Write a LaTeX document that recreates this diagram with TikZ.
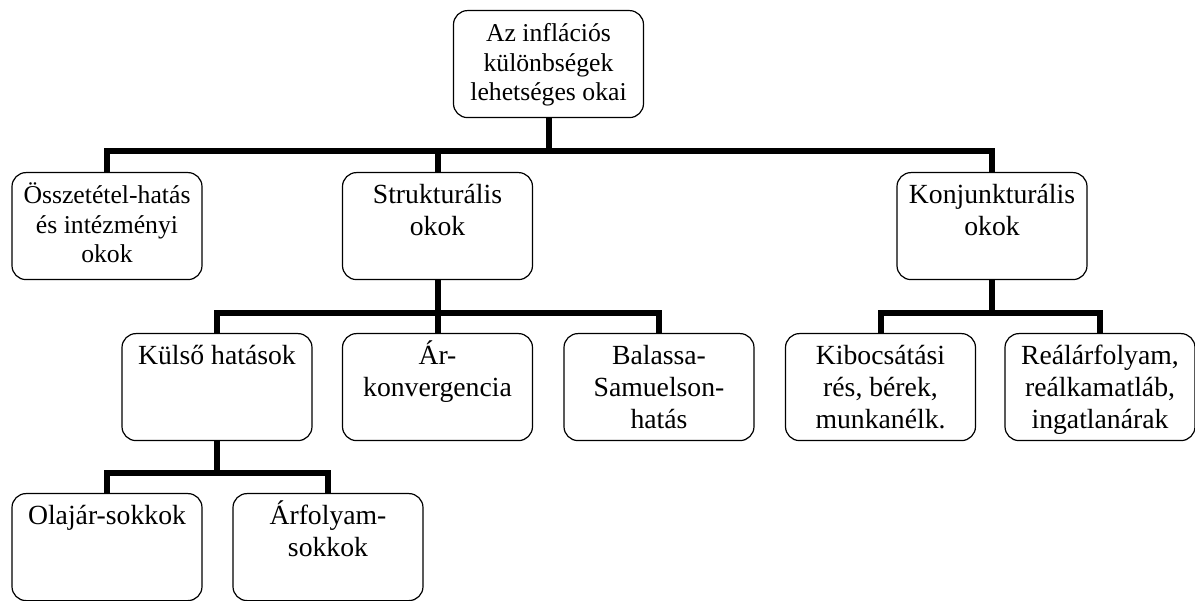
\documentclass[tikz,border=0pt]{standalone}
\usepackage{fontspec}
\setmainfont{Liberation Serif}
\tikzset{%
  % Specifications for style of nodes:
        base/.style = {rectangle, rounded corners=14pt, draw=black, line width=1.2pt,
                       minimum width=190pt, minimum height=107pt, anchor=north,
                       text width=182pt, align=flush center, inner xsep=4pt, inner ysep=0pt,
                       text height=31pt, text depth=76pt,
                       font=\fontsize{27.7}{31.8}\selectfont},
    smallbox/.style = {base, font=\fontsize{25.7}{29.5}\selectfont},
        link/.style = {line width=6pt, draw=black},
}

\begin{document}
\begin{tikzpicture}[x=1pt, y=-1pt]
  \useasboundingbox (0,0) rectangle (1195,601);
  % Specification of nodes (position, etc.)
  \node (root)    [smallbox] at (548.5,10) {Az inflációs\\különbségek\\lehetséges okai};

  \node (ossz)    [smallbox] at (107,172)  {Összetétel-hatás\\és intézményi\\okok};
  \node (strukt)  [base] at (437.5,172)    {Strukturális\\okok};
  \node (konj)    [base] at (992,172)      {Konjunkturális\\okok};

  \node (kulso)   [base] at (217,333)      {Külső hatások};
  \node (arkonv)  [base] at (437.5,333)    {Ár-\\konvergencia};
  \node (balassa) [base] at (659,333)      {Balassa-\\Samuelson-\\hatás};
  \node (kibocs)  [base] at (880.5,333)    {Kibocsátási\\rés, bérek,\\munkanélk.};
  \node (real)    [base] at (1100,333)     {Reálárfolyam,\\reálkamatláb,\\ingatlanárak};

  \node (olaj)    [base] at (107,493)      {Olajár-sokkok};
  \node (arfoly)  [base] at (328,493)      {Árfolyam-\\sokkok};

  % Specification of lines between nodes specified above
  \draw[link] (root.south) -- ++(0,33) -| (ossz.north);
  \draw[link] (root.south) -- ++(0,33) -| (strukt.north);
  \draw[link] (root.south) -- ++(0,33) -| (konj.north);

  \draw[link] (strukt.south) -- ++(0,33) -| (kulso.north);
  \draw[link] (strukt.south) -- ++(0,33) -| (arkonv.north);
  \draw[link] (strukt.south) -- ++(0,33) -| (balassa.north);

  \draw[link] (konj.south) -- ++(0,33) -| (kibocs.north);
  \draw[link] (konj.south) -- ++(0,33) -| (real.north);

  \draw[link] (kulso.south) -- ++(0,32) -| (olaj.north);
  \draw[link] (kulso.south) -- ++(0,32) -| (arfoly.north);
\end{tikzpicture}
\end{document}
